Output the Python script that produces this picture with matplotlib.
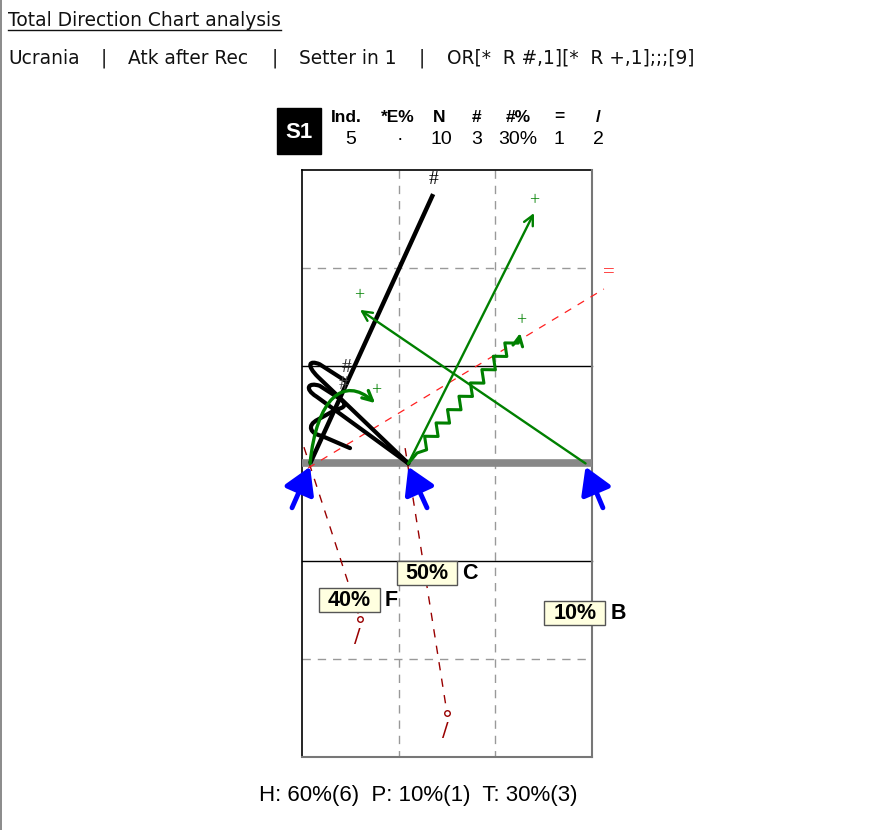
import numpy as np
import matplotlib.pyplot as plt
from matplotlib.patches import Rectangle, PathPatch, FancyArrowPatch
from matplotlib.path import Path

# ---- header texts
title = "Total Direction Chart analysis"
sub_parts = ["Ucrania", "|", "Atk after Rec", "|", "Setter in 1", "|", "OR[*  R #,1][*  R +,1];;;[9]"]
sub_x = [8, 104, 128, 275, 299, 422, 447]
sub_ha = ['left', 'center', 'left', 'center', 'left', 'center', 'left']

zone = "S1"
tab_heads = ["Ind.", "*E%", "N", "#", "#%", "=", "/"]
tab_vals = ["5", "·", "10", "3", "30%", "1", "2"]
head_x = [346, 398, 439, 477, 518, 559, 598]
val_x = [351, 400, 441, 477, 518, 559, 598]

footer = "H: 60%(6)  P: 10%(1)  T: 30%(3)"

# ---- court data in metres (9 x 18, y from far end line, net at 9)
starts_x = [0.25, 3.3, 8.8]
start_y = 9.0
tail_x = [-0.31, 3.88, 9.34]
tail_y = 10.36

# straight "#" attack
kill_start = (0.25, 9.0)
kill_end = (4.07, 0.74)
kill_lab = (4.07, 0.28)

# green "+" arrows
plus_start = [(3.3, 9.0), (8.8, 9.0)]
plus_end = [(7.2, 1.32), (1.8, 4.29)]
plus_lab = [(7.2, 0.95), (1.77, 3.86), (6.8, 4.63), (2.3, 6.78)]

# zigzag "+" attack
zig_pts = [(3.3, 9.0), (3.57, 8.68), (6.77, 5.0)]
# curved "+" attack (bezier control points)
curve_pts = [(0.25, 9.0), (0.45, 7.0), (1.3, 6.3), (2.27, 7.15)]

# "=" attack
err_start = (0.19, 9.14)
err_end = (9.37, 3.65)
err_lab = (9.53, 3.16)

# "/" blocked attacks
blk_start = [(0.06, 8.5), (3.2, 8.53)]
blk_end = [(1.8, 13.77), (4.5, 16.65)]
blk_lab = [(1.71, 14.32), (4.44, 17.2)]

# looping "#" attacks
loop1 = [(3.3, 9.0), (0.5, 6.35), (0.12, 5.98), (0.22, 5.82), (0.55, 5.96), (1.4, 6.5)]
loop1_codes = [Path.MOVETO, Path.LINETO, Path.CURVE4, Path.CURVE4, Path.CURVE4, Path.LINETO]
loop2 = [(3.3, 9.0), (0.45, 6.95), (0.05, 6.7), (0.2, 6.5), (0.55, 6.62), (1.15, 7.0),
         (1.45, 7.2), (1.3, 7.3), (1.05, 7.35), (0.5, 7.65), (0.1, 7.85), (0.3, 8.1),
         (0.6, 8.15), (1.49, 8.53)]
loop2_codes = [Path.MOVETO, Path.LINETO, Path.CURVE4, Path.CURVE4, Path.CURVE4, Path.LINETO,
               Path.CURVE4, Path.CURVE4, Path.CURVE4, Path.LINETO, Path.CURVE4, Path.CURVE4,
               Path.CURVE4, Path.LINETO]
loop_lab = [(1.37, 6.07), (1.28, 6.57)]

# zone percentages
pct = ["40%", "50%", "10%"]
pct_zone = ["F", "C", "B"]
pct_x = [1.46, 3.88, 8.47]
pct_y = [13.19, 12.36, 13.58]

W, H = 890, 830
fig = plt.figure(figsize=(W / 100, H / 100), dpi=100)
fig.patch.set_facecolor('white')

# pixel overlay for the header
ax0 = fig.add_axes([0, 0, 1, 1])
ax0.set_xlim(0, W)
ax0.set_ylim(H, 0)
ax0.axis('off')

hfont = 'DejaVu Sans'
t = ax0.text(8, 20, title, fontsize=13.4, family=hfont, va='center', ha='left', color='#111')
for s, x, ha in zip(sub_parts, sub_x, sub_ha):
    ax0.text(x, 58, s, fontsize=13.4, family=hfont, va='center', ha=ha, color='#111')
ax0.plot([1, 1], [0, H], color='#777', lw=1.2)

ax0.add_patch(Rectangle((277, 108), 44, 46, color='black'))
ax0.text(299, 132, zone, color='white', fontsize=16, fontweight='bold', family='Liberation Sans',
         ha='center', va='center')
for h, x in zip(tab_heads, head_x):
    ax0.text(x, 117, h, fontsize=12.5, fontweight='bold', family='Liberation Sans', ha='center', va='center')
for v, x in zip(tab_vals, val_x):
    ax0.text(x, 139, v, fontsize=14, family='Liberation Sans', ha='center', va='center')

ax0.text(418, 795, footer, fontsize=16, family='Liberation Sans', ha='center', va='center')

# underline the title
fig.canvas.draw()
bb = t.get_window_extent().transformed(ax0.transData.inverted())
ax0.plot([bb.x0, bb.x1], [30, 30], color='#111', lw=1)

# court axes: x -1..10.5 m, y -0.3..18.3 m
ax = fig.add_axes([269.8 / W, 1 - 766.7 / H, 370.5 / W, 606.5 / H])
ax.set_xlim(-1.0, 10.5)
ax.set_ylim(18.3, -0.3)
ax.axis('off')

grid = dict(color='#999999', lw=1, dashes=(6, 5), zorder=1)
for gx in [3, 6]:
    ax.plot([gx, gx], [0, 18], **grid)
for gy in [3, 15]:
    ax.plot([0, 9], [gy, gy], **grid)
for gy in [6, 12]:
    ax.plot([0, 9], [gy, gy], color='black', lw=1, zorder=1)
ax.plot([0, 9], [0, 0], color='black', lw=1.2, zorder=2)
ax.plot([0, 0], [0, 18], color='black', lw=1.2, zorder=2)
ax.plot([9, 9], [0, 18], color='#777', lw=1.5, zorder=2)
ax.plot([0, 9], [18, 18], color='#777', lw=1.5, zorder=2)
ax.plot([0, 9], [9, 9], color='#888', lw=5.5, zorder=2, solid_capstyle='butt')

# blocked
for s, e, l in zip(blk_start, blk_end, blk_lab):
    ax.plot([s[0], e[0]], [s[1], e[1]], color='#990000', lw=1, dashes=(6, 6), zorder=3)
    ax.plot(e[0], e[1], 'o', ms=4, mfc='white', mec='#990000', mew=1, zorder=4)
    ax.text(l[0], l[1], '/', color='#990000', fontsize=14, family='DejaVu Sans', ha='center', va='center')

# error
ax.plot([err_start[0], err_end[0]], [err_start[1], err_end[1]], color='#ff2020', lw=0.9,
        dashes=(6, 6), zorder=3)
ax.text(err_lab[0], err_lab[1], '=', color='#ff2020', fontsize=15, family='Liberation Serif',
        ha='center', va='center')

# kills
ax.plot([kill_start[0], kill_end[0]], [kill_start[1], kill_end[1]], color='black', lw=3.2,
        zorder=5, solid_capstyle='butt')
ax.text(kill_lab[0], kill_lab[1], '#', fontsize=14, family='Liberation Serif', ha='center', va='center')
for pts, codes in [(loop1, loop1_codes), (loop2, loop2_codes)]:
    ax.add_patch(PathPatch(Path(pts, codes), fill=False, ec='black', lw=3.0, zorder=5,
                           joinstyle='round', capstyle='round'))
for (lx, ly), c in zip(loop_lab, ['#222', '#444']):
    ax.text(lx, ly, '#', fontsize=14, family='Liberation Serif', color=c, ha='center', va='center', zorder=6)

# green plus attacks
green = '#008000'
astyle = '->,head_length=0.5,head_width=0.25'
for s, e in zip(plus_start, plus_end):
    ax.annotate('', xy=e, xytext=s, zorder=6,
                arrowprops=dict(arrowstyle=astyle, color=green, lw=1.7, mutation_scale=14,
                                shrinkA=0, shrinkB=0))

# zigzag path (teeth along the segment)
z0 = np.array(zig_pts[1])
z1 = np.array(zig_pts[2])
d = z1 - z0
n = np.array([-d[1], d[0]]) / np.hypot(*d)
teeth = 18
zz = [zig_pts[0], zig_pts[1]]
for k in range(1, teeth):
    sgn = 1 if k % 2 else -1
    p = z0 + d * k / teeth + n * 0.16 * sgn
    zz.append(tuple(p))
zz.append(zig_pts[2])
ax.add_patch(FancyArrowPatch(path=Path(zz), arrowstyle=astyle, color=green, lw=2.2,
                             mutation_scale=14, transform=ax.transData, zorder=6))

ax.add_patch(FancyArrowPatch(path=Path(curve_pts, [Path.MOVETO, Path.CURVE4, Path.CURVE4, Path.CURVE4]),
                             arrowstyle=astyle, color=green, lw=2.4, mutation_scale=14,
                             transform=ax.transData, zorder=6))
for lx, ly in plus_lab:
    ax.text(lx, ly, '+', color=green, fontsize=13, family='Liberation Serif', ha='center', va='center')

# blue start arrows
for sx, tx in zip(starts_x, tail_x):
    ax.annotate('', xy=(sx, start_y + 0.1), xytext=(tx, tail_y), zorder=8,
                arrowprops=dict(arrowstyle='-|>,head_length=1.0,head_width=0.6', color='blue',
                                lw=3.5, mutation_scale=16, shrinkA=0, shrinkB=0))

# zone percentage labels
bw, bh = 1.89, 0.74
for p, z, x, y in zip(pct, pct_zone, pct_x, pct_y):
    ax.add_patch(Rectangle((x - bw / 2, y - bh / 2), bw, bh, fc='#ffffe0', ec='#555', lw=1, zorder=9))
    ax.text(x, y + 0.02, p, fontsize=15.5, fontweight='bold', family='Liberation Sans', ha='center',
            va='center', zorder=10)
    ax.text(x + bw / 2 + 0.16, y + 0.02, z, fontsize=15.5, fontweight='bold', family='Liberation Sans',
            ha='left', va='center', zorder=10)

fig.savefig('out.png', dpi=100)
